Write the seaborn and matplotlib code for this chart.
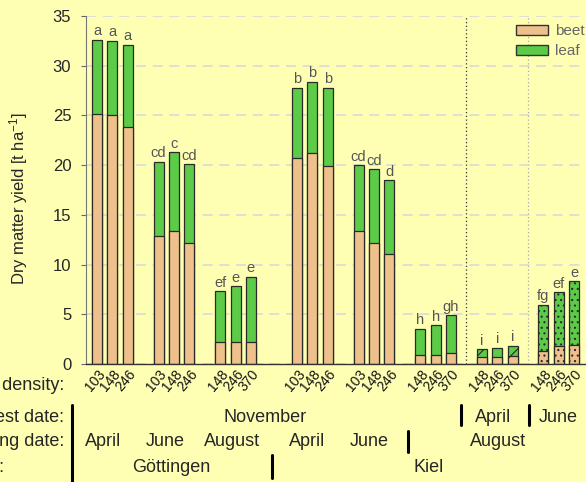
import pandas as pd
import numpy as np
import matplotlib
matplotlib.use('Agg')
import matplotlib.pyplot as plt
import seaborn as sns
from matplotlib.lines import Line2D
from matplotlib.patches import Patch

# values (t/ha)
group_site = ['Göttingen'] * 3 + ['Kiel'] * 5
group_sowing = ['April', 'June', 'August', 'April', 'June', 'August', 'August', 'August']
group_harvest = ['November'] * 6 + ['April', 'June']
densities = [['103', '148', '246'], ['103', '148', '246'], ['148', '246', '370'],
             ['103', '148', '246'], ['103', '148', '246'], ['148', '246', '370'],
             ['148', '246', '370'], ['148', '246', '370']]
total_yield = [32.6, 32.5, 32.1, 20.35, 21.3, 20.1, 7.3, 7.8, 8.8,
               27.8, 28.4, 27.8, 20.0, 19.6, 18.5, 3.55, 3.9, 4.9,
               1.5, 1.65, 1.85, 5.95, 7.2, 8.35]
beet_yield = [25.15, 25.05, 23.8, 12.9, 13.35, 12.2, 2.2, 2.2, 2.2,
              20.7, 21.2, 19.9, 13.35, 12.15, 11.05, 0.95, 0.95, 1.15,
              0.75, 0.75, 0.85, 1.35, 1.85, 1.95]
letters = ['a', 'a', 'a', 'cd', 'c', 'cd', 'ef', 'e', 'e',
           'b', 'b', 'b', 'cd', 'cd', 'd', 'h', 'h', 'gh',
           'i', 'i', 'i', 'fg', 'ef', 'e']

BG = '#FFFFB4'
BEET = '#EEC08C'
LEAF = '#5CCB48'
W, H = 586, 482

sns.set_style('ticks')
plt.rcParams['font.family'] = ['Liberation Sans', 'DejaVu Sans']
plt.rcParams['mathtext.default'] = 'regular'
plt.rcParams['hatch.linewidth'] = 0.8

# bar slots: 3 bars per group, one empty slot between groups, an extra one between sites
pos = []
for g in range(len(densities)):
    off = g * 4 + (1 if group_site[g] == 'Kiel' else 0)
    pos += [off + k for k in range(3)]
df = pd.DataFrame({'pos': pos, 'total': total_yield, 'beet': beet_yield,
                   'density': sum(densities, []), 'letter': letters})


def px(x, y):
    return x / W, 1 - y / H


fig = plt.figure(figsize=(W / 100, H / 100), dpi=100, facecolor=BG)
ax = fig.add_axes([86 / W, 1 - 364 / H, 500 / W, 348 / H], facecolor=BG)

sns.barplot(data=df, x='pos', y='total', native_scale=True, color=LEAF, saturation=1,
            width=0.65, edgecolor='#2a2a2a', linewidth=0.9, errorbar=None, ax=ax)
sns.barplot(data=df, x='pos', y='beet', native_scale=True, color=BEET, saturation=1,
            width=0.65, edgecolor='#2a2a2a', linewidth=0.9, errorbar=None, ax=ax)

# hatching for the two non-November harvests
n = len(df)
for i in range(n):
    h = None
    if group_harvest[i // 3] == 'April':
        h = '/'
    elif group_harvest[i // 3] == 'June':
        h = '...'
    if h:
        ax.patches[i].set_hatch(h)
        ax.patches[n + i].set_hatch(h)

for _, r in df.iterrows():
    ax.text(r['pos'], r['total'] + 0.45, r['letter'], ha='center', va='baseline',
            fontsize=10.5, color='#555555')
    ax.text(r['pos'] + 0.35, -0.8, r['density'], rotation=50, ha='right', va='center',
            rotation_mode='anchor', fontsize=10, color='#111111', clip_on=False)

ax.axvline(24, ls=(0, (1, 2)), color='#333333', lw=0.9, zorder=0)
ax.axvline(28, ls=(0, (1, 2)), color='#aaaaaa', lw=0.9, zorder=0)

ax.set_xlim(-0.715, 31.77)
ax.set_ylim(0, 35)
ax.set_xticks([])
ax.set_yticks(np.arange(0, 36, 5))
ax.set_xlabel('')
ax.set_ylabel('')
ax.yaxis.grid(True, ls=(0, (6, 4)), color='#d9d9d9', lw=1.2)
ax.set_axisbelow(True)
ax.tick_params(axis='y', length=3.6, width=0.8, color='#666666', labelsize=12, pad=7)
for s in ['top', 'right']:
    ax.spines[s].set_visible(False)
ax.spines['left'].set_color('#777777')
ax.spines['left'].set_linewidth(0.8)
ax.spines['bottom'].set_color('#333333')
ax.spines['bottom'].set_linewidth(1.0)

leg = ax.legend(handles=[Patch(facecolor=BEET, edgecolor='#333333', label='beet'),
                         Patch(facecolor=LEAF, edgecolor='#333333', label='leaf')],
                loc='upper left', bbox_to_anchor=px(516, 24), bbox_transform=fig.transFigure,
                frameon=False, fontsize=11, labelcolor='#666666', borderpad=0, borderaxespad=0,
                handlelength=2.1, handleheight=0.65, handletextpad=0.45, labelspacing=0.4)

fig.text(*px(19, 199), 'Dry matter yield [t ha$^{-1}$]', rotation=90, ha='center', va='center',
         fontsize=12)

# table below the axis (left side is cropped like the original figure)
for label, y in [('Plant density:', 385), ('Harvest date:', 417), ('Sowing date:', 442)]:
    fig.text(*px(64, y), label, ha='right', va='center', fontsize=13)
fig.text(*px(4, 468), 'Site:', ha='right', va='center', fontsize=13)

for txt, x, y in [('November', 265, 417), ('April', 493, 417), ('June', 558, 417),
                  ('April', 103, 442), ('June', 165, 442), ('August', 232, 442),
                  ('April', 307, 442), ('June', 369, 442), ('August', 498, 442),
                  ('Göttingen', 171, 468), ('Kiel', 429, 468)]:
    fig.text(*px(x, y), txt, ha='center', va='center', fontsize=13)

for x, y0, y1 in [(72, 405, 482), (272, 455, 478), (408, 431, 452), (461, 405, 425), (529, 405, 425)]:
    x0, yy0 = px(x, y0)
    _, yy1 = px(x, y1)
    fig.add_artist(Line2D([x0, x0], [yy0, yy1], transform=fig.transFigure, color='black', lw=2.2))

fig.savefig('out.png', dpi=100, facecolor=BG)
